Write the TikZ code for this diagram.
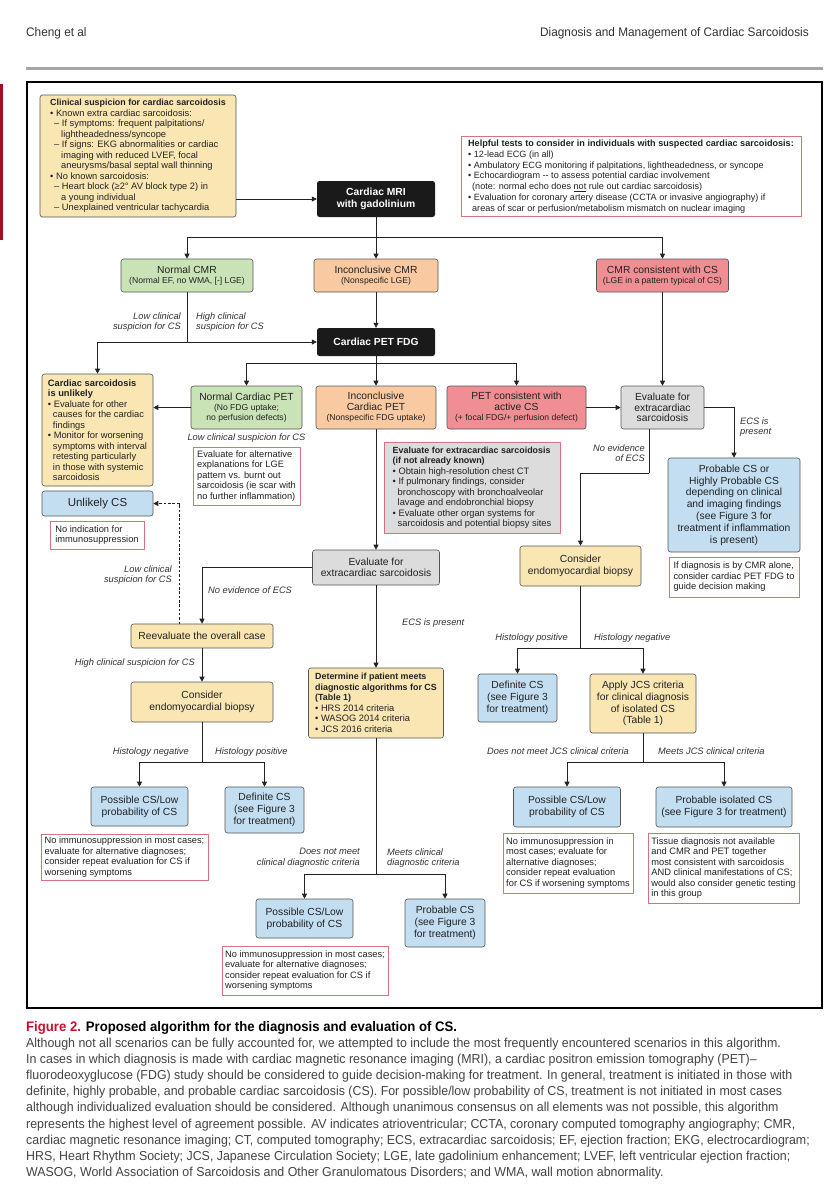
\documentclass[tikz,border=0pt]{standalone}
\usepackage{fontspec}
\setmainfont{Liberation Sans}
\newfontfamily\condfont[FakeStretch=0.953]{Liberation Sans}
\usetikzlibrary{arrows.meta}
\definecolor{yel}{HTML}{F9E6B3}
\definecolor{grn}{HTML}{C9E3B7}
\definecolor{org}{HTML}{F9C9A1}
\definecolor{redf}{HTML}{EF8F93}
\definecolor{gry}{HTML}{DCDCDC}
\definecolor{blu}{HTML}{C3DEF1}
\definecolor{notered}{HTML}{D9707E}
\definecolor{boxline}{HTML}{555555}
\definecolor{blk}{HTML}{1A1A1A}
\definecolor{txt}{HTML}{222222}
\definecolor{labc}{HTML}{333333}
\definecolor{lnc}{HTML}{222222}
\definecolor{figred}{HTML}{C8102E}
\definecolor{capgray}{HTML}{444444}
\newcommand\szT{\fontsize{10.3}{11.8}\selectfont}
\newcommand\szB{\fontsize{9.3}{10.5}\selectfont}
\newcommand\szH{\fontsize{8.9}{10.5}\selectfont}
\newcommand\szC{\fontsize{9.1}{10.8}\selectfont}
\newcommand\szS{\fontsize{8.6}{9.8}\selectfont}
\newcommand\Ic{\hspace*{5pt}}
\newcommand\Ia{\hspace*{4pt}}
\newcommand\Ib{\hspace*{11pt}}
\begin{document}
\begin{tikzpicture}[x=1pt,y=-1pt,
 base/.style={draw=boxline, line width=0.6pt, rounded corners=2.5pt, inner sep=2pt, align=center, text=txt, font=\szT},
 ybox/.style={base, fill=yel},
 gbox/.style={base, fill=grn},
 obox/.style={base, fill=org},
 rbox/.style={base, fill=redf},
 gybox/.style={base, fill=gry},
 bbox/.style={base, fill=blu},
 kbox/.style={fill=blk, rounded corners=2.5pt, text=white, font=\szT\bfseries, align=center, inner sep=2pt},
 note/.style={draw=notered, line width=0.8pt, fill=white, align=left, text=txt, font=\szB, inner sep=3pt},
 lab/.style={font=\szB\itshape, text=labc, inner sep=0pt},
 ln/.style={line width=0.8pt, draw=lnc},
 arr/.style={ln, -{Triangle[length=5pt,width=5pt]}},
 captxt/.style={anchor=base west, inner sep=0pt, font=\condfont\fontsize{13}{16}\selectfont, text=capgray}
]
\useasboundingbox (0,0) rectangle (828,1200);
\fill[white] (0,0) rectangle (828,1200);
% header
\node[anchor=base west, inner sep=0pt, font=\condfont\fontsize{12.4}{15}\selectfont, text=labc] (hl) at (26,36) {Cheng et al};
\node[anchor=base east, inner sep=0pt, font=\condfont\fontsize{12.4}{15}\selectfont, text=labc] (hr) at (809,36) {Diagnosis and Management of Cardiac Sarcoidosis};
\fill[gray!70] (26,66.5) rectangle (823,69.5);
\fill[figred!80!black] (0,84) rectangle (3,240);
\draw[line width=1.4pt, black] (27,82) rectangle (822,1008);

% nodes
\node[ybox, minimum width=196pt, minimum height=122pt, align=left, font=\szB] (clin) at (138,156) {{\szH\bfseries Clinical suspicion for cardiac sarcoidosis}\\
• Known extra cardiac sarcoidosis:\\
\Ia– If symptoms: frequent palpitations/\\
\Ib lightheadedness/syncope\\
\Ia– If signs: EKG abnormalities or cardiac\\
\Ib imaging with reduced LVEF, focal\\
\Ib aneurysms/basal septal wall thinning\\
• No known sarcoidosis:\\
\Ia– Heart block (≥2° AV block type 2) in\\
\Ib a young individual\\
\Ia– Unexplained ventricular tachycardia};

\node[kbox, minimum width=118pt, minimum height=36pt] (mri) at (376,199) {Cardiac MRI\\with gadolinium};

\node[note, minimum width=340pt, minimum height=79pt, font=\szC] (help) at (631,176.5) {\textbf{Helpful tests to consider in individuals with suspected cardiac sarcoidosis:}\\
• 12-lead ECG (in all)\\
• Ambulatory ECG monitoring if palpitations, lightheadedness, or syncope\\
• Echocardiogram -{}- to assess potential cardiac involvement\\
\Ia(note: normal echo does \underline{not} rule out cardiac sarcoidosis)\\
• Evaluation for coronary artery disease (CCTA or invasive angiography) if\\
\Ia areas of scar or perfusion/metabolism mismatch on nuclear imaging};

\node[gbox, minimum width=132pt, minimum height=33pt] (ncmr) at (187,275.5) {Normal CMR\\[-1.5pt]{\szS(Normal EF, no WMA, [-] LGE)}};
\node[obox, minimum width=124pt, minimum height=33pt] (icmr) at (376,275.5) {Inconclusive CMR\\[-1.5pt]{\szS(Nonspecific LGE)}};
\node[rbox, minimum width=132pt, minimum height=33pt] (ccmr) at (662.5,275.5) {CMR consistent with CS\\[-1.5pt]{\szS(LGE in a pattern typical of CS)}};

\node[kbox, minimum width=118pt, minimum height=28pt] (pet) at (376,342) {Cardiac PET FDG};

\node[ybox, minimum width=111pt, minimum height=112pt, align=left, font=\szB] (unl) at (97.5,430) {\textbf{Cardiac sarcoidosis}\\\textbf{is unlikely}\\
• Evaluate for other\\\Ic causes for the cardiac\\\Ic findings\\
• Monitor for worsening\\\Ic symptoms with interval\\\Ic retesting particularly\\\Ic in those with systemic\\\Ic sarcoidosis};

\node[gbox, minimum width=111pt, minimum height=43pt] (npet) at (246.5,407.5) {Normal Cardiac PET\\[-1.5pt]{\szS(No FDG uptake;}\\[-1.5pt]{\szS no perfusion defects)}};
\node[obox, minimum width=120pt, minimum height=43pt] (ipet) at (376,407.5) {Inconclusive\\[-1pt]Cardiac PET\\[-1.5pt]{\szS(Nonspecific FDG uptake)}};
\node[rbox, minimum width=139pt, minimum height=43pt] (cpet) at (516.5,407.5) {PET consistent with\\[-1pt]active CS\\[-1.5pt]{\szS(+ focal FDG/+ perfusion defect)}};
\node[gybox, minimum width=83pt, minimum height=43pt] (evalR) at (662.5,407.5) {Evaluate for\\[-1pt]extracardiac\\[-1pt]sarcoidosis};

\node[lab] (l3) at (246.5,438) {Low clinical suspicion for CS};
\node[note, minimum width=107pt, minimum height=58pt] (alt) at (246.5,476) {Evaluate for alternative\\explanations for LGE\\pattern vs. burnt out\\sarcoidosis (ie scar with\\no further inflammation)};

\node[note, fill=gry, minimum width=176pt, minimum height=91pt] (ecs) at (472,487.5) {{\szH\bfseries Evaluate for extracardiac sarcoidosis}\\{\szH\bfseries (if not already known)}\\
• Obtain high-resolution chest CT\\
• If pulmonary findings, consider\\\Ic bronchoscopy with bronchoalveolar\\\Ic lavage and endobronchial biopsy\\
• Evaluate other organ systems for\\\Ic sarcoidosis and potential biopsy sites};

\node[bbox, minimum width=111pt, minimum height=25pt, font=\fontsize{11.5}{13}\selectfont] (unlcs) at (97.5,503.5) {Unlikely CS};
\node[note, minimum width=94pt, minimum height=28pt] (noind) at (97,535) {No indication for\\immunosuppression};

\node[gybox, minimum width=127pt, minimum height=35pt] (evalM) at (376,567.5) {Evaluate for\\[-1pt]extracardiac sarcoidosis};

\node[bbox, minimum width=132pt, minimum height=94pt] (prob) at (734,505) {Probable CS or\\Highly Probable CS\\depending on clinical\\and imaging findings\\(see Figure 3 for\\treatment if inflammation\\is present)};
\node[note, minimum width=130pt, minimum height=40pt] (cmra) at (734,577) {If diagnosis is by CMR alone,\\consider cardiac PET FDG to\\guide decision making};

\node[ybox, minimum width=121pt, minimum height=40pt] (emb1) at (580.5,566) {Consider\\endomyocardial biopsy};

\node[ybox, minimum width=142pt, minimum height=24pt] (reev) at (202,636) {Reevaluate the overall case};
\node[ybox, minimum width=142pt, minimum height=40pt] (emb2) at (202,702) {Consider\\endomyocardial biopsy};

\node[ybox, minimum width=135pt, minimum height=70pt, align=left, font=\szB] (det) at (376,703) {{\szH\bfseries Determine if patient meets}\\{\szH\bfseries diagnostic algorithms for CS}\\{\szH\bfseries (Table 1)}\\• HRS 2014 criteria\\• WASOG 2014 criteria\\• JCS 2016 criteria};

\node[bbox, minimum width=79pt, minimum height=48pt] (defR) at (517.5,698) {Definite CS\\(see Figure 3\\for treatment)};
\node[ybox, minimum width=106pt, minimum height=59pt] (jcs) at (643,703.5) {Apply JCS criteria\\for clinical diagnosis\\of isolated CS\\(Table 1)};

\node[bbox, minimum width=107pt, minimum height=40pt] (poss2) at (567,807) {Possible CS/Low\\probability of CS};
\node[bbox, minimum width=136pt, minimum height=40pt] (probi) at (724,807) {Probable isolated CS\\(see Figure 3 for treatment)};
\node[note, minimum width=130pt, minimum height=60pt] (pn2) at (568,863) {No immunosuppression in\\most cases; evaluate for\\alternative diagnoses;\\consider repeat evaluation\\for CS if worsening symptoms};
\node[note, minimum width=151pt, minimum height=70pt] (tis) at (723.5,868) {Tissue diagnosis not available\\and CMR and PET together\\most consistent with sarcoidosis\\AND clinical manifestations of CS;\\would also consider genetic testing\\in this group};

\node[bbox, minimum width=97pt, minimum height=39pt] (poss1) at (139.5,806.5) {Possible CS/Low\\probability of CS};
\node[bbox, minimum width=79pt, minimum height=46pt] (def2) at (264.5,810) {Definite CS\\(see Figure 3\\for treatment)};
\node[note, minimum width=167pt, minimum height=46pt] (pn1) at (124.5,857) {No immunosuppression in most cases;\\evaluate for alternative diagnoses;\\consider repeat evaluation for CS if\\worsening symptoms};

\node[bbox, minimum width=97pt, minimum height=39pt] (poss3) at (304.5,918.5) {Possible CS/Low\\probability of CS};
\node[bbox, minimum width=80pt, minimum height=48pt] (probc) at (445,923) {Probable CS\\(see Figure 3\\for treatment)};
\node[note, minimum width=166pt, minimum height=49pt] (pn3) at (305,970.5) {No immunosuppression in most cases;\\evaluate for alternative diagnoses;\\consider repeat evaluation for CS if\\worsening symptoms};

% labels
\node[lab, align=right, anchor=east] (l1) at (181,322) {Low clinical\\suspicion for CS};
\node[lab, align=left, anchor=west] (l2) at (196,322) {High clinical\\suspicion for CS};
\node[lab, align=right, anchor=east] (l4) at (645,453) {No evidence\\of ECS};
\node[lab, align=left, anchor=west] (l5) at (740,427) {ECS is\\present};
\node[lab, align=right, anchor=east] (l6) at (172,575) {Low clinical\\suspicion for CS};
\node[lab, anchor=west] (l7) at (208,590) {No evidence of ECS};
\node[lab, anchor=west] (l8) at (402,623) {ECS is present};
\node[lab, anchor=east] (l9) at (195,663) {High clinical suspicion for CS};
\node[lab, anchor=east] (l10) at (568,638) {Histology positive};
\node[lab, anchor=west] (l11) at (594,638) {Histology negative};
\node[lab, anchor=east] (l12) at (189,752) {Histology negative};
\node[lab, anchor=west] (l13) at (215,752) {Histology positive};
\node[lab, anchor=east] (l14) at (629,751) {Does not meet JCS clinical criteria};
\node[lab, anchor=west] (l15) at (658,751) {Meets JCS clinical criteria};
\node[lab, align=right, anchor=east] (l16) at (360,858) {Does not meet\\clinical diagnostic criteria};
\node[lab, align=left, anchor=west] (l17) at (387,858) {Meets clinical\\diagnostic criteria};

% junctions
\coordinate (j1) at (376,237);
\coordinate (j2) at (187,342);
\coordinate (j3) at (376,363);
\coordinate (e1) at (649,473);
\coordinate (dsh) at (179,624);
\coordinate (j5) at (580.5,648);
\coordinate (j6) at (643,762);
\coordinate (j7) at (202,762);
\coordinate (j8) at (376,874);

% connectors
\draw[arr] (clin.east |- mri.west) -- (mri.west);
\draw[ln] (mri.south) -- (j1);
\draw[arr] (j1) -| (ncmr.north);
\draw[arr] (j1) -- (icmr.north);
\draw[arr] (j1) -| (ccmr.north);
\draw[ln] (ncmr.south) -- (j2);
\draw[arr] (j2) -- (pet.west);
\draw[arr] (j2) -| (unl.north);
\draw[arr] (icmr.south) -- (pet.north);
\draw[arr] (ccmr.south) -- (evalR.north);
\draw[ln] (pet.south) -- (j3);
\draw[arr] (j3) -| (npet.north);
\draw[arr] (j3) -- (ipet.north);
\draw[arr] (j3) -| (cpet.north);
\draw[arr] (npet.west) -- (npet.west -| unl.east);
\draw[arr] (cpet.east) -- (evalR.west);
\draw[arr] (evalR.east) -| (prob.north);
\draw[ln] (evalR.south -| e1) -- (e1);
\draw[arr] (e1) -| (emb1.north);
\draw[arr] (ipet.south) -- (evalM.north);
\draw[arr] (evalM.west) -| (reev.north);
\draw[arr] (evalM.south) -- (det.north);
\draw[arr, dash pattern=on 2.5pt off 1.8pt] (dsh) |- (unlcs.east);
\draw[arr] (reev.south) -- (emb2.north);
\draw[ln] (emb1.south) -- (j5);
\draw[arr] (j5) -| (defR.north);
\draw[arr] (j5) -| (jcs.north);
\draw[ln] (jcs.south) -- (j6);
\draw[arr] (j6) -| (poss2.north);
\draw[arr] (j6) -| (probi.north);
\draw[ln] (emb2.south) -- (j7);
\draw[arr] (j7) -| (poss1.north);
\draw[arr] (j7) -| (def2.north);
\draw[ln] (det.south) -- (j8);
\draw[arr] (j8) -| (poss3.north);
\draw[arr] (j8) -| (probc.north);

% caption
\node[captxt, text=black, font=\condfont\fontsize{13.8}{16}\selectfont\bfseries] (c0) at (26,1031) {{\color{figred}Figure 2.} Proposed algorithm for the diagnosis and evaluation of CS.};
\node[captxt] (c1) at (26,1047.5) {Although not all scenarios can be fully accounted for, we attempted to include the most frequently encountered scenarios in this algorithm.};
\node[captxt] (c2) at (26,1063.6) {In cases in which diagnosis is made with cardiac magnetic resonance imaging (MRI), a cardiac positron emission tomography (PET)–};
\node[captxt] (c3) at (26,1079.7) {fluorodeoxyglucose (FDG) study should be considered to guide decision-making for treatment. In general, treatment is initiated in those with};
\node[captxt] (c4) at (26,1095.8) {definite, highly probable, and probable cardiac sarcoidosis (CS). For possible/low probability of CS, treatment is not initiated in most cases};
\node[captxt] (c5) at (26,1111.9) {although individualized evaluation should be considered. Although unanimous consensus on all elements was not possible, this algorithm};
\node[captxt] (c6) at (26,1128) {represents the highest level of agreement possible. AV indicates atrioventricular; CCTA, coronary computed tomography angiography; CMR,};
\node[captxt] (c7) at (26,1144.1) {cardiac magnetic resonance imaging; CT, computed tomography; ECS, extracardiac sarcoidosis; EF, ejection fraction; EKG, electrocardiogram;};
\node[captxt] (c8) at (26,1160.2) {HRS, Heart Rhythm Society; JCS, Japanese Circulation Society; LGE, late gadolinium enhancement; LVEF, left ventricular ejection fraction;};
\node[captxt] (c9) at (26,1176.3) {WASOG, World Association of Sarcoidosis and Other Granulomatous Disorders; and WMA, wall motion abnormality.};
\end{tikzpicture}
\end{document}
